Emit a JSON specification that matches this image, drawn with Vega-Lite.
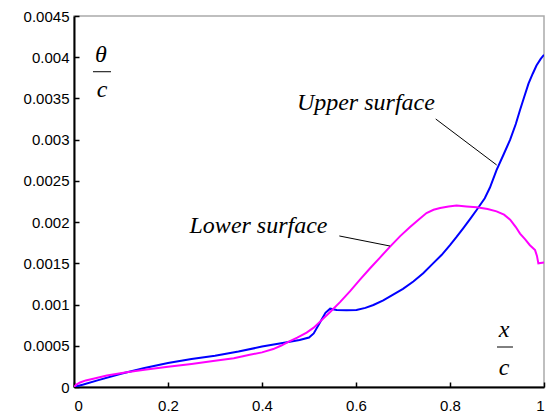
{
  "$schema": "https://vega.github.io/schema/vega-lite/v6.json",
  "width": 470,
  "height": 371,
  "autosize": {"type": "none"},
  "padding": {"left": 74, "top": 16, "right": 9, "bottom": 28},
  "config": {
    "view": {"stroke": "#aaaaaa", "strokeWidth": 1.5},
    "axis": {
      "domainColor": "#000000",
      "domainWidth": 2,
      "tickColor": "#000000",
      "tickWidth": 1.5,
      "tickSize": -5,
      "grid": false,
      "labelFont": "Liberation Sans",
      "labelFontSize": 15,
      "labelColor": "#000000",
      "title": null
    }
  },
  "datasets": {
    "curves": [
      {"series": "Upper", "x": 0, "y": 0},
      {"series": "Upper", "x": 0.02, "y": 0.00003},
      {"series": "Upper", "x": 0.05, "y": 0.00008},
      {"series": "Upper", "x": 0.1, "y": 0.00016},
      {"series": "Upper", "x": 0.15, "y": 0.00023},
      {"series": "Upper", "x": 0.2, "y": 0.00029},
      {"series": "Upper", "x": 0.25, "y": 0.00034},
      {"series": "Upper", "x": 0.3, "y": 0.00038},
      {"series": "Upper", "x": 0.35, "y": 0.00043},
      {"series": "Upper", "x": 0.4, "y": 0.00049},
      {"series": "Upper", "x": 0.45, "y": 0.00054},
      {"series": "Upper", "x": 0.48, "y": 0.00057},
      {"series": "Upper", "x": 0.5, "y": 0.0006},
      {"series": "Upper", "x": 0.51, "y": 0.00065},
      {"series": "Upper", "x": 0.523, "y": 0.00078},
      {"series": "Upper", "x": 0.535, "y": 0.0009},
      {"series": "Upper", "x": 0.545, "y": 0.00095},
      {"series": "Upper", "x": 0.559, "y": 0.000935},
      {"series": "Upper", "x": 0.58, "y": 0.00093},
      {"series": "Upper", "x": 0.601, "y": 0.000934},
      {"series": "Upper", "x": 0.62, "y": 0.00096},
      {"series": "Upper", "x": 0.637, "y": 0.000995},
      {"series": "Upper", "x": 0.658, "y": 0.00105},
      {"series": "Upper", "x": 0.679, "y": 0.00112},
      {"series": "Upper", "x": 0.7, "y": 0.00119},
      {"series": "Upper", "x": 0.722, "y": 0.00128},
      {"series": "Upper", "x": 0.743, "y": 0.00138},
      {"series": "Upper", "x": 0.764, "y": 0.0015},
      {"series": "Upper", "x": 0.782, "y": 0.0016},
      {"series": "Upper", "x": 0.8, "y": 0.00172},
      {"series": "Upper", "x": 0.814, "y": 0.00182},
      {"series": "Upper", "x": 0.828, "y": 0.001925},
      {"series": "Upper", "x": 0.843, "y": 0.00204},
      {"series": "Upper", "x": 0.857, "y": 0.00215},
      {"series": "Upper", "x": 0.874, "y": 0.00229},
      {"series": "Upper", "x": 0.885, "y": 0.00242},
      {"series": "Upper", "x": 0.899, "y": 0.00263},
      {"series": "Upper", "x": 0.914, "y": 0.00282},
      {"series": "Upper", "x": 0.928, "y": 0.003},
      {"series": "Upper", "x": 0.94, "y": 0.00319},
      {"series": "Upper", "x": 0.949, "y": 0.00336},
      {"series": "Upper", "x": 0.958, "y": 0.00352},
      {"series": "Upper", "x": 0.967, "y": 0.00368},
      {"series": "Upper", "x": 0.976, "y": 0.0038},
      {"series": "Upper", "x": 0.984, "y": 0.0039},
      {"series": "Upper", "x": 0.993, "y": 0.00398},
      {"series": "Upper", "x": 1.0, "y": 0.00403},
      {"series": "Lower", "x": 0, "y": 0},
      {"series": "Lower", "x": 0.005, "y": 0.00003},
      {"series": "Lower", "x": 0.013, "y": 0.000055},
      {"series": "Lower", "x": 0.025, "y": 0.00008},
      {"series": "Lower", "x": 0.041, "y": 0.0001},
      {"series": "Lower", "x": 0.07, "y": 0.00014},
      {"series": "Lower", "x": 0.112, "y": 0.00018},
      {"series": "Lower", "x": 0.15, "y": 0.00021},
      {"series": "Lower", "x": 0.2, "y": 0.000246},
      {"series": "Lower", "x": 0.25, "y": 0.00028},
      {"series": "Lower", "x": 0.296, "y": 0.000315},
      {"series": "Lower", "x": 0.34, "y": 0.00035},
      {"series": "Lower", "x": 0.374, "y": 0.00039},
      {"series": "Lower", "x": 0.4, "y": 0.00042},
      {"series": "Lower", "x": 0.424, "y": 0.00046},
      {"series": "Lower", "x": 0.44, "y": 0.0005},
      {"series": "Lower", "x": 0.457, "y": 0.00055},
      {"series": "Lower", "x": 0.475, "y": 0.0006},
      {"series": "Lower", "x": 0.495, "y": 0.00066},
      {"series": "Lower", "x": 0.51, "y": 0.00072},
      {"series": "Lower", "x": 0.523, "y": 0.00079},
      {"series": "Lower", "x": 0.545, "y": 0.00091},
      {"series": "Lower", "x": 0.566, "y": 0.00103},
      {"series": "Lower", "x": 0.587, "y": 0.00116},
      {"series": "Lower", "x": 0.608, "y": 0.0013},
      {"series": "Lower", "x": 0.63, "y": 0.00144},
      {"series": "Lower", "x": 0.651, "y": 0.00157},
      {"series": "Lower", "x": 0.672, "y": 0.0017},
      {"series": "Lower", "x": 0.694, "y": 0.00183},
      {"series": "Lower", "x": 0.715, "y": 0.00194},
      {"series": "Lower", "x": 0.733, "y": 0.00203},
      {"series": "Lower", "x": 0.75, "y": 0.00211},
      {"series": "Lower", "x": 0.765, "y": 0.00215},
      {"series": "Lower", "x": 0.779, "y": 0.00217},
      {"series": "Lower", "x": 0.797, "y": 0.00219},
      {"series": "Lower", "x": 0.814, "y": 0.0022},
      {"series": "Lower", "x": 0.835, "y": 0.00219},
      {"series": "Lower", "x": 0.857, "y": 0.00218},
      {"series": "Lower", "x": 0.88, "y": 0.00216},
      {"series": "Lower", "x": 0.899, "y": 0.00213},
      {"series": "Lower", "x": 0.915, "y": 0.00209},
      {"series": "Lower", "x": 0.928, "y": 0.00203},
      {"series": "Lower", "x": 0.94, "y": 0.00194},
      {"series": "Lower", "x": 0.949, "y": 0.00186},
      {"series": "Lower", "x": 0.96, "y": 0.00179},
      {"series": "Lower", "x": 0.97, "y": 0.00172},
      {"series": "Lower", "x": 0.981, "y": 0.00166},
      {"series": "Lower", "x": 0.985, "y": 0.00159},
      {"series": "Lower", "x": 0.988, "y": 0.0015},
      {"series": "Lower", "x": 1.0, "y": 0.00151}
    ],
    "segments": [
      {"kind": "leader", "x": 0.7696, "y": 0.003251, "x2": 0.8993, "y2": 0.002693},
      {"kind": "leader", "x": 0.5645, "y": 0.001832, "x2": 0.6723, "y2": 0.00171},
      {"kind": "bar", "x": 0.0404, "y": 0.003824, "x2": 0.0787, "y2": 0.003824},
      {"kind": "bar", "x": 0.9, "y": 0.000485, "x2": 0.934, "y2": 0.000485}
    ],
    "labels": [
      {"text": "Upper surface", "x": 0.621, "y": 0.00336},
      {"text": "Lower surface", "x": 0.3926, "y": 0.001868},
      {"text": "θ", "x": 0.0574, "y": 0.003942},
      {"text": "c", "x": 0.0595, "y": 0.003518},
      {"text": "x", "x": 0.915, "y": 0.000606},
      {"text": "c", "x": 0.915, "y": 0.000146}
    ]
  },
  "layer": [
    {
      "data": {"name": "curves"},
      "mark": {"type": "line", "strokeWidth": 2, "clip": true},
      "encoding": {
        "x": {"field": "x", "type": "quantitative",
              "scale": {"domain": [0, 1], "nice": false, "zero": false},
              "axis": {"values": [0, 0.2, 0.4, 0.6, 0.8, 1], "format": "~g", "labelPadding": 16}},
        "y": {"field": "y", "type": "quantitative",
              "scale": {"domain": [0, 0.0045], "nice": false},
              "axis": {"values": [0, 0.0005, 0.001, 0.0015, 0.002, 0.0025, 0.003, 0.0035, 0.004, 0.0045], "format": "~g", "labelPadding": 10}},
        "color": {"field": "series", "type": "nominal",
                  "scale": {"domain": ["Upper", "Lower"], "range": ["#0000ff", "#ff00ff"]},
                  "legend": null},
        "order": {"field": "x", "type": "quantitative"}
      }
    },
    {
      "data": {"name": "segments"},
      "mark": {"type": "rule", "color": "#000000", "strokeWidth": 1},
      "encoding": {
        "x": {"field": "x", "type": "quantitative"},
        "y": {"field": "y", "type": "quantitative"},
        "x2": {"field": "x2"},
        "y2": {"field": "y2"}
      }
    },
    {
      "data": {"name": "labels"},
      "mark": {"type": "text", "font": "Liberation Serif", "fontStyle": "italic", "fontSize": 24, "color": "#000000", "align": "center", "baseline": "alphabetic"},
      "encoding": {
        "x": {"field": "x", "type": "quantitative"},
        "y": {"field": "y", "type": "quantitative"},
        "text": {"field": "text"}
      }
    }
  ]
}
